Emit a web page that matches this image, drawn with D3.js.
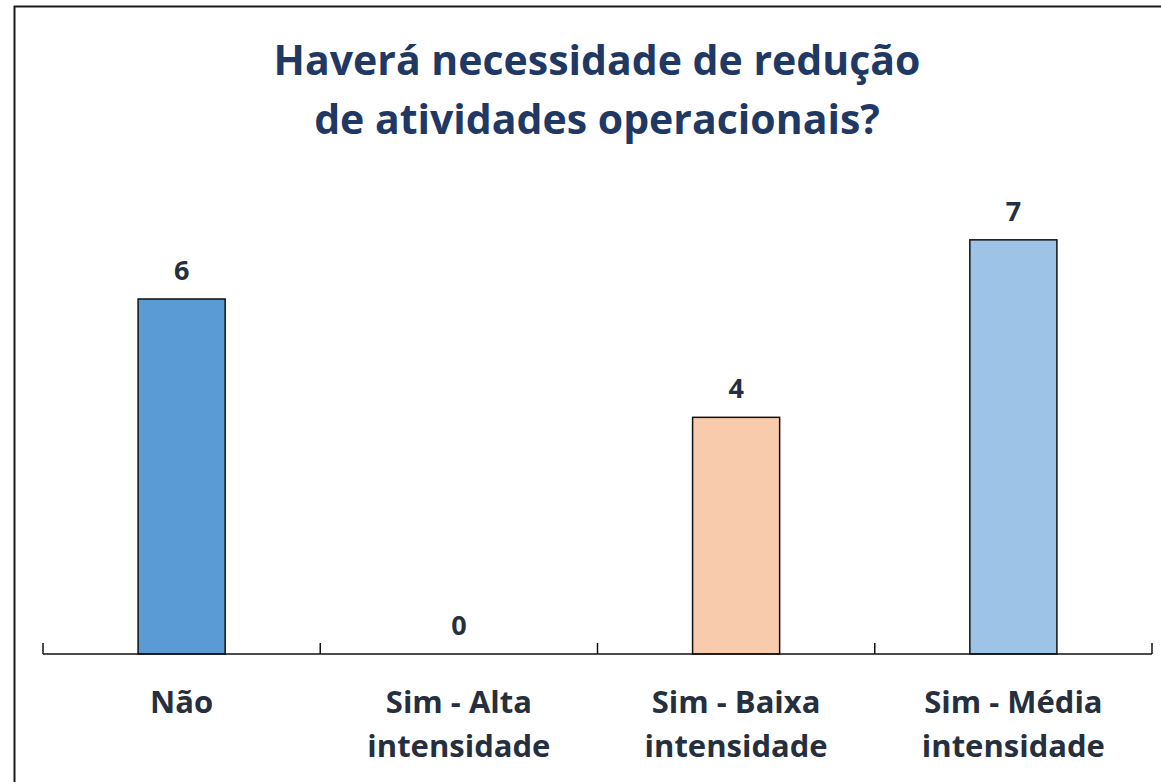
<!DOCTYPE html>
<html>
<head>
<meta charset="utf-8">
<script src="https://cdn.jsdelivr.net/npm/d3@7"></script>
<style>
  body { margin: 0; background: #fff; }
  svg { display: block; font-family: "Open Sans", sans-serif; }
</style>
</head>
<body>
<svg></svg>
<script>
var width = 1161;
var height = 782;

var categories = ['Não', 'Sim - Alta intensidade', 'Sim - Baixa intensidade', 'Sim - Média intensidade'];
var labelLines = [['Não'], ['Sim - Alta', 'intensidade'], ['Sim - Baixa', 'intensidade'], ['Sim - Média', 'intensidade']];
var values = [6, 0, 4, 7];
var colors = ['#5b9bd5', '#5b9bd5', '#f8cbad', '#9dc3e6'];
var titleLines = ['Haverá necessidade de redução', 'de atividades operacionais?'];

var svg = d3.select('svg')
    .attr('width', width)
    .attr('height', height);

// frame
svg.append('rect')
  .attr('x', 14.5)
  .attr('y', 6.5)
  .attr('width', 1300)
  .attr('height', 1000)
  .attr('fill', 'none')
  .attr('stroke', '#1a1a1a')
  .attr('stroke-width', 2);

var xScale = d3.scaleBand()
    .domain(categories)
    .range([43, 1152])
    .paddingInner(0.686)
    .paddingOuter(0.343);

var yScale = d3.scaleLinear()
    .domain([0, 6])
    .range([654, 299]);

// ticks on band edges
var edges = categories.map(function(c) { return xScale(c) - xScale.step() * xScale.paddingInner() / 2; });
edges.push(1152);

svg.selectAll('rect.bar')
  .data(values)
  .enter()
  .append('rect')
    .attr('class', 'bar')
    .attr('x', (d, i) => xScale(categories[i]))
    .attr('y', d => yScale(d))
    .attr('width', xScale.bandwidth())
    .attr('height', d => yScale(0) - yScale(d))
    .attr('fill', (d, i) => colors[i])
    .attr('stroke', '#111')
    .attr('stroke-width', 1.5);

var axis = svg.append('g');
axis.append('line')
  .attr('x1', 43).attr('x2', 1152)
  .attr('y1', yScale(0)).attr('y2', yScale(0))
  .attr('stroke', '#111')
  .attr('stroke-width', 1.5);
axis.selectAll('line.tick')
  .data(edges)
  .enter()
  .append('line')
    .attr('class', 'tick')
    .attr('x1', d => d).attr('x2', d => d)
    .attr('y1', yScale(0)).attr('y2', yScale(0) - 11)
    .attr('stroke', '#111')
    .attr('stroke-width', 1.5);

// value labels
svg.selectAll('text.value')
  .data(values)
  .enter()
  .append('text')
    .attr('class', 'value')
    .attr('x', (d, i) => xScale(categories[i]) + xScale.bandwidth() / 2)
    .attr('y', d => yScale(d) - 19)
    .attr('text-anchor', 'middle')
    .attr('font-size', 27)
    .attr('font-weight', 'bold')
    .attr('fill', '#262f3d')
    .text(d => d);

// category labels
var catG = svg.selectAll('text.cat')
  .data(labelLines)
  .enter()
  .append('text')
    .attr('class', 'cat')
    .attr('text-anchor', 'middle')
    .attr('font-size', 31)
    .attr('font-weight', 'bold')
    .attr('fill', '#262f3d');
catG.selectAll('tspan')
  .data((d, i) => d.map(l => ({ line: l, i: i })))
  .enter()
  .append('tspan')
    .attr('x', d => xScale(categories[d.i]) + xScale.bandwidth() / 2)
    .attr('y', (d, j) => 713 + j * 44)
    .text(d => d.line);

//title
svg.append('text')
  .attr('text-anchor', 'middle')
  .attr('font-size', 41)
  .attr('font-weight', 'bold')
  .attr('fill', '#1f3864')
  .selectAll('tspan')
  .data(titleLines)
  .enter()
  .append('tspan')
    .attr('x', 597)
    .attr('y', (d, i) => 75 + i * 59)
    .text(d => d);
</script>
</body>
</html>
